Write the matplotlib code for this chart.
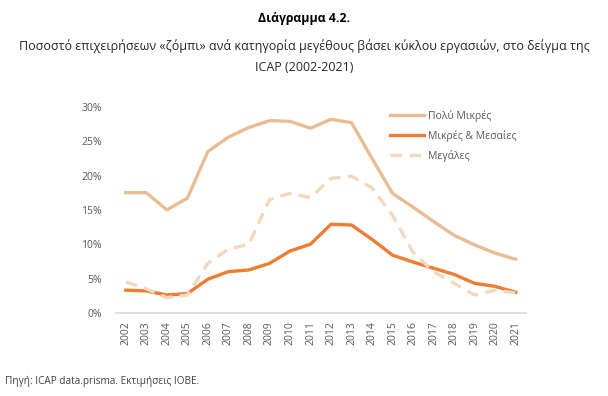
import matplotlib
matplotlib.use("Agg")
import matplotlib.pyplot as plt
from matplotlib.ticker import FuncFormatter

plt.rcParams['font.family'] = ['Open Sans', 'DejaVu Sans']

years = [str(y) for y in range(2002, 2022)]

poly_mikres = [17.5, 17.5, 15.0, 16.7, 23.5, 25.6, 27.0, 28.0, 27.9, 26.9,
               28.2, 27.7, 22.5, 17.4, 15.4, 13.3, 11.3, 9.9, 8.7, 7.8]
mikres_mesaies = [3.3, 3.2, 2.6, 2.8, 4.9, 6.0, 6.25, 7.2, 9.0, 10.0,
                  12.9, 12.8, 10.7, 8.4, 7.4, 6.5, 5.6, 4.3, 3.85, 3.0]
megales = [4.5, 3.5, 2.2, 2.6, 7.2, 9.3, 10.0, 16.5, 17.4, 16.8,
           19.6, 19.9, 18.2, 14.2, 8.8, 6.0, 4.3, 2.6, 3.3, 2.9]

labels = ['Πολύ Μικρές', 'Μικρές & Μεσαίες', 'Μεγάλες']

fig = plt.figure(figsize=(6.08, 3.96), dpi=100)
ax = fig.add_axes([0.19, 0.21, 0.675, 0.52])

x = range(len(years))
ax.plot(x, poly_mikres, color='#E9BD93', lw=2.4, label=labels[0])
ax.plot(x, mikres_mesaies, color='#ED7D31', lw=2.4, label=labels[1])
ax.plot(x, megales, color='#F3D8BE', lw=2.4, ls=(0, (3.5, 2.2)), label=labels[2])

ax.set_ylim(0, 30)
ax.set_yticks([0, 5, 10, 15, 20, 25, 30])
ax.yaxis.set_major_formatter(FuncFormatter(lambda v, p: f'{v:.0f}%'))
ax.set_xlim(-0.5, len(years) - 0.5)
ax.set_xticks(list(x))
ax.set_xticklabels(years, rotation=90)
ax.tick_params(axis='both', length=0, colors='#595959', labelsize=7.5)
ax.tick_params(axis='x', pad=6)
ax.tick_params(axis='y', pad=10)

for s in ['top', 'right', 'left']:
    ax.spines[s].set_visible(False)
ax.spines['bottom'].set_color('#D9D9D9')
ax.spines['bottom'].set_linewidth(1.2)

leg = ax.legend(loc='upper right', bbox_to_anchor=(1.0, 1.03), frameon=False,
                fontsize=7.5, handlelength=3.3, labelspacing=0.75, handletextpad=0.4)
for t in leg.get_texts():
    t.set_color('#595959')

fig.text(0.5, 0.953, 'Διάγραμμα 4.2.', ha='center', va='center',
         fontsize=8.8, fontweight='bold', color='#000000')
fig.text(0.5, 0.884, 'Ποσοστό επιχειρήσεων «ζόμπι» ανά κατηγορία μεγέθους βάσει κύκλου εργασιών, στο δείγμα της',
         ha='center', va='center', fontsize=9.0, color='#262626')
fig.text(0.5, 0.830, 'ICAP (2002-2021)', ha='center', va='center',
         fontsize=9.0, color='#262626')
fig.text(0.008, 0.038, 'Πηγή: ICAP data.prisma. Εκτιμήσεις ΙΟΒΕ.', ha='left', va='center',
         fontsize=7.2, color='#404040')

fig.savefig('out.png', dpi=100)
